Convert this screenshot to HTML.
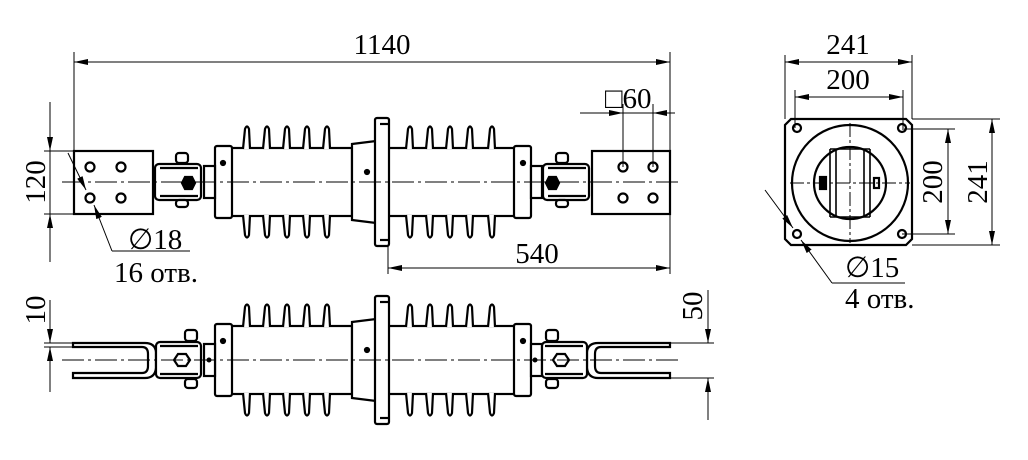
<!DOCTYPE html>
<html><head><meta charset="utf-8"><style>
body{margin:0;background:#fff}
svg{display:block}
text{font-family:"Liberation Serif",serif;fill:#000}
</style></head><body>
<svg width="1028" height="460" viewBox="0 0 1028 460" xmlns="http://www.w3.org/2000/svg">
<defs>
<marker id="a" viewBox="0 0 14 6" refX="14" refY="3" markerWidth="14" markerHeight="6" orient="auto-start-reverse" markerUnits="userSpaceOnUse"><path d="M0,0 L14,3 L0,6 Z" fill="#000"/></marker>
<g id="ins" stroke="#000" stroke-width="2.2" fill="#fff">
  <rect x="230" y="148" width="122" height="68"/>
  <rect x="388" y="148" width="128" height="68"/>
  <path d="M243,149 L245,129 Q247,124 249,129 L250,149"/>
  <path d="M263,149 L265,129 Q267,124 269,129 L270,149"/>
  <path d="M283,149 L285,129 Q287,124 289,129 L290,149"/>
  <path d="M303,149 L305,129 Q307,124 309,129 L310,149"/>
  <path d="M323,149 L325,129 Q327,124 329,129 L330,149"/>
  <path d="M243,215 L245,235 Q247,240 249,235 L250,215"/>
  <path d="M263,215 L265,235 Q267,240 269,235 L270,215"/>
  <path d="M283,215 L285,235 Q287,240 289,235 L290,215"/>
  <path d="M303,215 L305,235 Q307,240 309,235 L310,215"/>
  <path d="M323,215 L325,235 Q327,240 329,235 L330,215"/>
  <path d="M406,149 L408,129 Q410,124 412,129 L413,149"/>
  <path d="M426,149 L428,129 Q430,124 432,129 L433,149"/>
  <path d="M446,149 L448,129 Q450,124 452,129 L453,149"/>
  <path d="M466,149 L468,129 Q470,124 472,129 L473,149"/>
  <path d="M488,149 L490,129 Q492,124 494,129 L495,149"/>
  <path d="M406,215 L408,235 Q410,240 412,235 L413,215"/>
  <path d="M426,215 L428,235 Q430,240 432,235 L433,215"/>
  <path d="M446,215 L448,235 Q450,240 452,235 L453,215"/>
  <path d="M466,215 L468,235 Q470,240 472,235 L473,215"/>
  <path d="M488,215 L490,235 Q492,240 494,235 L495,215"/>
  <path d="M352,144 L376,141 L376,223 L352,220 Z"/>
  <rect x="375" y="118" width="14" height="128" rx="2"/>
  <line x1="380" y1="124" x2="389" y2="124"/><line x1="380" y1="240" x2="389" y2="240"/>
  <rect x="215" y="146" width="17" height="72" rx="2"/>
  <rect x="514" y="146" width="17" height="72" rx="2"/>
  <rect x="204" y="166" width="11" height="32"/>
  <rect x="531" y="166" width="11" height="32"/>
  <circle cx="223" cy="163" r="2" fill="#000"/><circle cx="367" cy="172" r="2" fill="#000"/><circle cx="523" cy="163" r="2" fill="#000"/>
</g>
</defs>

<g stroke="#000" fill="none">
<use href="#ins"/>
<g stroke-width="2.2" fill="#fff">
  <rect x="74" y="151" width="79" height="63"/>
  <rect x="592" y="151" width="78" height="63"/>
  <rect x="155" y="164" width="46" height="36" rx="4"/>
  <rect x="543" y="164" width="46" height="36" rx="4"/>
  <rect x="176" y="153" width="12" height="10" rx="3"/><rect x="176" y="200" width="12" height="7" rx="3"/>
  <rect x="556" y="153" width="12" height="10" rx="3"/><rect x="556" y="200" width="12" height="7" rx="3"/>
  <circle cx="90" cy="167" r="4.5"/><circle cx="121" cy="167" r="4.5"/><circle cx="90" cy="198" r="4.5"/><circle cx="121" cy="198" r="4.5"/>
  <circle cx="623" cy="167" r="4.5"/><circle cx="653" cy="167" r="4.5"/><circle cx="623" cy="198" r="4.5"/><circle cx="653" cy="198" r="4.5"/>
  <polygon points="185,177 192,177 195,183 192,189 185,189 182,183" fill="#000"/>
  <polygon points="549,177 556,177 559,183 556,189 549,189 546,183" fill="#000"/>
  <line x1="160" y1="168" x2="198" y2="168"/><line x1="160" y1="196" x2="198" y2="196"/>
  <line x1="548" y1="168" x2="586" y2="168"/><line x1="548" y1="196" x2="586" y2="196"/>
</g>
<line x1="62" y1="182" x2="678" y2="182" stroke-width="1" stroke-dasharray="22,4,3,4"/>

<use href="#ins" transform="translate(0,178)"/>
<g stroke-width="2.2" fill="#fff">
  <path d="M73,343 L145,343 Q155,343 156,352 L156,368 Q155,378 145,378 L73,378 L73,373 L142,373 Q148,373 148,366 L148,354 Q148,347 142,347 L73,347 Z"/>
  <path d="M670,343 L598,343 Q588,343 587,352 L587,368 Q588,378 598,378 L670,378 L670,373 L601,373 Q595,373 595,366 L595,354 Q595,347 601,347 L670,347 Z"/>
  <rect x="156" y="342" width="45" height="36" rx="4"/>
  <rect x="542" y="342" width="45" height="36" rx="4"/>
  <rect x="185" y="330" width="12" height="11" rx="3"/><rect x="185" y="379" width="12" height="9" rx="3"/>
  <rect x="546" y="330" width="12" height="11" rx="3"/><rect x="546" y="379" width="12" height="9" rx="3"/>
  <line x1="160" y1="346" x2="198" y2="346"/><line x1="160" y1="374" x2="198" y2="374"/>
  <line x1="545" y1="346" x2="583" y2="346"/><line x1="545" y1="374" x2="583" y2="374"/>
  <polygon points="178,354 186,354 190,360 186,366 178,366 174,360"/>
  <polygon points="557,354 565,354 569,360 565,366 557,366 553,360"/>
</g>
<circle cx="209" cy="360" r="2" fill="#000"/><circle cx="535" cy="360" r="2" fill="#000"/>
<line x1="62" y1="360" x2="678" y2="360" stroke-width="1" stroke-dasharray="22,4,3,4"/>

<g stroke-width="1">
  <line x1="74" y1="52" x2="74" y2="151"/><line x1="670" y1="52" x2="670" y2="151"/>
  <line x1="74" y1="62" x2="670" y2="62" marker-start="url(#a)" marker-end="url(#a)"/>
  <line x1="44" y1="151" x2="74" y2="151"/><line x1="44" y1="214" x2="74" y2="214"/>
  <line x1="50" y1="102" x2="50" y2="151" marker-end="url(#a)"/><line x1="50" y1="262" x2="50" y2="214" marker-end="url(#a)"/>
  <line x1="50" y1="151" x2="50" y2="214"/>
  <line x1="68" y1="153" x2="86" y2="190" marker-end="url(#a)"/>
  <line x1="112" y1="251" x2="94" y2="205" marker-end="url(#a)"/>
  <line x1="112" y1="251" x2="190" y2="251"/>
  <line x1="623" y1="167" x2="623" y2="104"/><line x1="653" y1="167" x2="653" y2="104"/>
  <line x1="580" y1="113" x2="623" y2="113" marker-end="url(#a)"/><line x1="675" y1="113" x2="653" y2="113" marker-end="url(#a)"/>
  <line x1="623" y1="113" x2="653" y2="113"/>
  <line x1="388" y1="246" x2="388" y2="274"/><line x1="670" y1="214" x2="670" y2="274"/>
  <line x1="388" y1="268" x2="670" y2="268" marker-start="url(#a)" marker-end="url(#a)"/>
  <line x1="44" y1="343" x2="73" y2="343"/><line x1="44" y1="347" x2="73" y2="347"/>
  <line x1="50" y1="300" x2="50" y2="343" marker-end="url(#a)"/><line x1="50" y1="392" x2="50" y2="347" marker-end="url(#a)"/>
  <line x1="670" y1="343" x2="714" y2="343"/><line x1="670" y1="378" x2="714" y2="378"/>
  <line x1="708" y1="290" x2="708" y2="343" marker-end="url(#a)"/><line x1="708" y1="420" x2="708" y2="378" marker-end="url(#a)"/>
</g>

<g stroke-width="2.2">
  <path d="M791,119 L906,119 L912,125 L912,239 L906,245 L791,245 L785,239 L785,125 Z"/>
  <circle cx="850" cy="183" r="58"/>
  <circle cx="850" cy="183" r="36"/>
  <circle cx="797" cy="128" r="4"/><circle cx="902" cy="128" r="4"/><circle cx="797" cy="234" r="4"/><circle cx="902" cy="234" r="4"/>
  <path d="M830,149 L870,149 M830,217 L870,217 M830,149 L830,217 M870,149 L870,217" stroke-width="1.6"/>
  <line x1="836" y1="149" x2="836" y2="217" stroke-width="1.6"/><line x1="864" y1="149" x2="864" y2="217" stroke-width="1.6"/>
  <rect x="820" y="177" width="6" height="12" fill="#000"/><rect x="874" y="178" width="5" height="10"/>
</g>
<g stroke-width="1">
  <line x1="850" y1="123" x2="850" y2="243" stroke-dasharray="14,3,3,3"/>
  <line x1="790" y1="183" x2="910" y2="183" stroke-dasharray="14,3,3,3"/>
  <line x1="785" y1="55" x2="785" y2="119"/><line x1="912" y1="55" x2="912" y2="119"/>
  <line x1="785" y1="62" x2="912" y2="62" marker-start="url(#a)" marker-end="url(#a)"/>
  <line x1="795" y1="90" x2="795" y2="128"/><line x1="903" y1="90" x2="903" y2="128"/>
  <line x1="795" y1="97" x2="903" y2="97" marker-start="url(#a)" marker-end="url(#a)"/>
  <line x1="912" y1="119" x2="1000" y2="119"/><line x1="912" y1="245" x2="1000" y2="245"/>
  <line x1="902" y1="129" x2="955" y2="129"/><line x1="902" y1="234" x2="955" y2="234"/>
  <line x1="948" y1="129" x2="948" y2="234" marker-start="url(#a)" marker-end="url(#a)"/>
  <line x1="992" y1="119" x2="992" y2="245" marker-start="url(#a)" marker-end="url(#a)"/>
  <line x1="765" y1="190" x2="793" y2="228" marker-end="url(#a)"/>
  <line x1="832" y1="283" x2="801" y2="240" marker-end="url(#a)"/>
  <line x1="832" y1="283" x2="905" y2="283"/>
</g>
</g>

<g font-size="29">
<text x="382" y="54" text-anchor="middle">1140</text>
<text x="848" y="54" text-anchor="middle">241</text>
<text x="848" y="89" text-anchor="middle">200</text>
<text x="537" y="263" text-anchor="middle">540</text>
<text x="605" y="108">□60</text>
<text x="128" y="249">∅18</text>
<text x="114" y="282">16 отв.</text>
<text x="845" y="277">∅15</text>
<text x="845" y="308">4 отв.</text>
<text transform="translate(45,182) rotate(-90)" text-anchor="middle">120</text>
<text transform="translate(45,310) rotate(-90)" text-anchor="middle">10</text>
<text transform="translate(702,306) rotate(-90)" text-anchor="middle">50</text>
<text transform="translate(942,182) rotate(-90)" text-anchor="middle">200</text>
<text transform="translate(987,182) rotate(-90)" text-anchor="middle">241</text>
</g>
</svg>
</body></html>
